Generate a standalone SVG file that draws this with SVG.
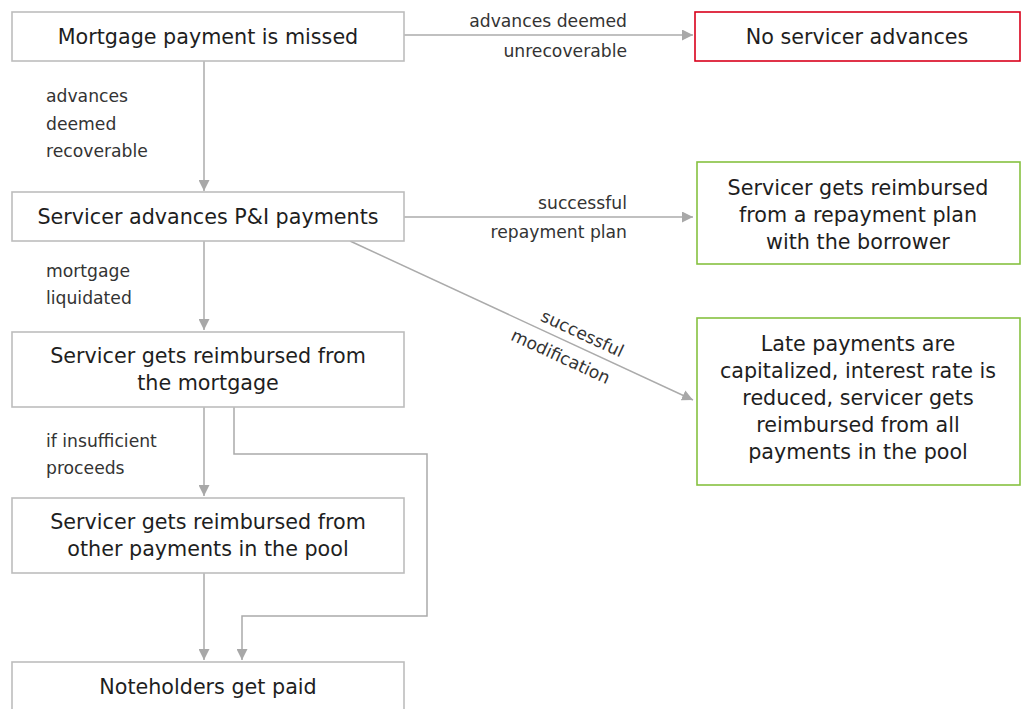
<svg xmlns="http://www.w3.org/2000/svg" width="1027" height="709" viewBox="0 0 1027 709">
<defs>
<style>
.box{fill:#fff;stroke:#bdbdbd;stroke-width:1.6}
.red{fill:#fff;stroke:#d9001b;stroke-width:1.6}
.green{fill:#fff;stroke:#86c140;stroke-width:1.6}
.nt{font-family:"DejaVu Sans","Open Sans",sans-serif;font-size:20.7px;fill:#1e1e1e;text-anchor:middle}
.lb{font-family:"DejaVu Sans","Open Sans",sans-serif;font-size:17.2px;fill:#333}
.lbr{font-family:"DejaVu Sans","Open Sans",sans-serif;font-size:17.2px;fill:#333;text-anchor:end}
.con{fill:none;stroke:#ababab;stroke-width:1.5}
</style>
<marker id="ah" viewBox="0 0 10 10" refX="10" refY="5" markerWidth="11" markerHeight="11" markerUnits="userSpaceOnUse" orient="auto">
<path d="M0,0 L10,5 L0,10 Z" fill="#a8a8a8"/>
</marker>
</defs>
<rect width="1027" height="709" fill="#fff"/>

<g id="connectors">
<line class="con" x1="404" y1="35" x2="693" y2="35" marker-end="url(#ah)"/>
<line class="con" x1="204" y1="61" x2="204" y2="191" marker-end="url(#ah)"/>
<line class="con" x1="404" y1="217" x2="693" y2="217" marker-end="url(#ah)"/>
<line class="con" x1="350" y1="241" x2="693" y2="400" marker-end="url(#ah)"/>
<line class="con" x1="204" y1="241" x2="204" y2="330" marker-end="url(#ah)"/>
<line class="con" x1="204" y1="407" x2="204" y2="496" marker-end="url(#ah)"/>
<line class="con" x1="204" y1="573" x2="204" y2="660" marker-end="url(#ah)"/>
<polyline class="con" points="234,407 234,454 427,454 427,616 242,616 242,660" marker-end="url(#ah)"/>
<text class="lbr" x="627" y="27">advances deemed</text>
<text class="lbr" x="627" y="57">unrecoverable</text>
<text class="lb" x="46" y="102">advances</text>
<text class="lb" x="46" y="130">deemed</text>
<text class="lb" x="46" y="157">recoverable</text>
<text class="lbr" x="627" y="209">successful</text>
<text class="lbr" x="627" y="238">repayment plan</text>
<text class="lb" x="46" y="277">mortgage</text>
<text class="lb" x="46" y="304">liquidated</text>
<g transform="translate(572,344) rotate(24.9)">
<text class="lb" x="5" y="-8" text-anchor="middle">successful</text>
<text class="lb" x="-5" y="22" text-anchor="middle">modification</text>
</g>
<text class="lb" x="46" y="447">if insufficient</text>
<text class="lb" x="46" y="474">proceeds</text>
</g>

<g id="n-missed">
<rect class="box" x="12" y="12" width="392" height="49"/>
<text class="nt" x="208" y="44">Mortgage payment is missed</text>
</g>
<g id="n-noadv">
<rect class="red" x="695" y="12" width="325" height="49"/>
<text class="nt" x="857" y="44">No servicer advances</text>
</g>
<g id="n-advances">
<rect class="box" x="12" y="192" width="392" height="49"/>
<text class="nt" x="208" y="224">Servicer advances P&amp;I payments</text>
</g>
<g id="n-repay">
<rect class="green" x="697" y="162" width="323" height="102"/>
<text class="nt" x="858" y="195">Servicer gets reimbursed</text>
<text class="nt" x="858" y="222">from a repayment plan</text>
<text class="nt" x="858" y="249">with the borrower</text>
</g>
<g id="n-mortgage">
<rect class="box" x="12" y="332" width="392" height="75"/>
<text class="nt" x="208" y="363">Servicer gets reimbursed from</text>
<text class="nt" x="208" y="390">the mortgage</text>
</g>
<g id="n-modif">
<rect class="green" x="697" y="318" width="323" height="167"/>
<text class="nt" x="858" y="351">Late payments are</text>
<text class="nt" x="858" y="378">capitalized, interest rate is</text>
<text class="nt" x="858" y="405">reduced, servicer gets</text>
<text class="nt" x="858" y="432">reimbursed from all</text>
<text class="nt" x="858" y="459">payments in the pool</text>
</g>
<g id="n-pool">
<rect class="box" x="12" y="498" width="392" height="75"/>
<text class="nt" x="208" y="529">Servicer gets reimbursed from</text>
<text class="nt" x="208" y="556">other payments in the pool</text>
</g>
<g id="n-paid">
<rect class="box" x="12" y="662" width="392" height="60"/>
<text class="nt" x="208" y="694">Noteholders get paid</text>
</g>
</svg>
